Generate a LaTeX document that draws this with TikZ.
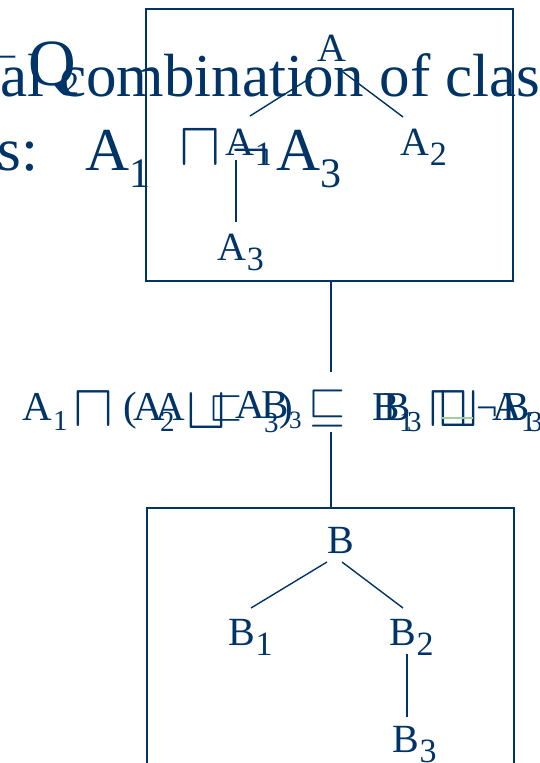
\documentclass[tikz,border=0pt]{standalone}
\usepackage{amssymb}
\usepackage{graphicx}
\usepackage{fontspec}
\setmainfont{Liberation Serif}
\usetikzlibrary{calc}

\definecolor{navy}{RGB}{0,51,102}
\definecolor{linkgreen}{RGB}{160,208,160}

% a maths symbol blown up to the size of the surrounding text
\newcommand\symb[2]{\scalebox{#1}{$#2$}}
% a lowered subscript for the tree labels
\newcommand\tsub[1]{\kern1pt\raisebox{-10pt}{\fontsize{34}{34}\selectfont #1}}

\tikzset{
  txt/.style={inner sep=0pt, outer sep=0pt, anchor=base west, text=navy},
  tree/.style={txt, font=\fontsize{40}{40}\selectfont},
  big/.style={txt, font=\fontsize{61}{61}\selectfont},
  bigsub/.style={txt, font=\fontsize{42}{42}\selectfont},
  mid/.style={txt, font=\fontsize{41}{41}\selectfont},
  midsub/.style={txt, font=\fontsize{29}{29}\selectfont},
  frame/.style={draw=navy, line width=1.5pt, inner sep=0pt, anchor=north west},
  edge/.style={draw=navy, line width=1.4pt},
}

\begin{document}
\begin{tikzpicture}[x=1pt, y=-1pt]
\useasboundingbox (0,0) rectangle (540,763);
\clip (0,0) rectangle (540,763);

% heading text running off both sides
\node[txt, font=\fontsize{40}{40}\selectfont] (dash) at (-5,66) {–};
\node[txt, font=\fontsize{66}{66}\selectfont] (q) at (28,85) {Q};
\node[txt, font=\fontsize{34}{34}\selectfont] (q2) at (62,95) {2};
\node[big] (l1) at (0,96) {al combination of clas};
\node[big] (l2) at (-2,170) {s:};
\node[big] (l3) at (85,170) {A};
\node[bigsub] (l4) at (129,187) {1};
\node[txt] (l5) at (179,165) {\symb{6.2}{\sqcap}};
\node[txt] (l6) at (231,170) {\symb{6}{\neg}};
\node[big] (l7) at (276,170) {A};
\node[bigsub] (l8) at (320,187) {3};

% upper hierarchy
\node[frame, minimum width=367pt, minimum height=272pt] (topbox) at (145,8) {};
\node[tree] (nA)  at (317,61)  {A};
\node[tree] (nA1) at (225,155) {A\tsub{1}};
\node[tree] (nA2) at (400,155) {A\tsub{2}};
\node[tree] (nA3) at (217,260) {A\tsub{3}};
\draw[edge] ($(nA.base west)+(-5,16)$) -- ($(nA1.base west)+(25,-39)$);
\draw[edge] ($(nA.base west)+(26,11)$) -- ($(nA2.base west)+(3,-38)$);
\draw[edge] ($(nA1.base west)+(11,5)$) -- ($(nA3.base west)+(19,-38)$);

% overlapping subsumption formulas
\node[mid] (m1) at (22,420) {A};
\node[midsub] (m2) at (53,430) {1};
\node[txt] (m3) at (73,426) {\symb{6}{\sqcap}};
\node[mid] (m4) at (123,420) {(};
\node[mid] (m5) at (133,420) {A};
\node[mid] (m6) at (155,420) {A};
\node[midsub] (m7) at (160,431) {2};
\node[txt] (m8) at (186,428) {\symb{6}{\sqcup}};
\node[txt] (m9) at (209,419) {\symb{4.4}{\sqsubset}};
\node[mid] (m10) at (235,418) {A};
\node[mid] (m11) at (261,418) {B};
\node[midsub] (m12) at (264,432) {3};
\node[mid] (m13) at (279,420) {)};
\node[txt, font=\fontsize{25}{25}\selectfont] (m14) at (289,428) {3};
\node[txt] (m15) at (308,420) {\symb{4.8}{\sqsubseteq}};
\node[mid] (m16) at (372,420) {B};
\node[mid] (m17) at (383,420) {B};
\node[midsub] (m18) at (399,431) {1};
\node[midsub] (m19) at (407,431) {3};
\node[txt] (m20) at (428,426) {\symb{6}{\sqcap}};
\node[txt] (m21) at (438,426) {\symb{6}{\sqcup}};
\draw[linkgreen, line width=1.6pt] ($(m21.base west)+(4,-8)$) -- ($(m21.base west)+(35,-8)$);
\node[txt, font=\fontsize{38}{38}\selectfont] (m22) at (476,420) {¬};
\node[mid] (m23) at (492,420) {A};
\node[mid] (m24) at (502,420) {B};
\node[midsub] (m25) at (521,431) {1};
\node[midsub] (m26) at (528,431) {3};

% lower hierarchy
\node[frame, minimum width=367pt, minimum height=300pt] (botbox) at (146,507) {};
\node[tree] (nB)  at (327,553) {B};
\node[tree] (nB1) at (228,645) {B\tsub{1}};
\node[tree] (nB2) at (389,645) {B\tsub{2}};
\node[tree] (nB3) at (392,752) {B\tsub{3}};
\draw[edge] ($(nB.base west)+(0,9)$) -- ($(nB1.base west)+(23,-37)$);
\draw[edge] ($(nB.base west)+(15,9)$) -- ($(nB2.base west)+(14,-37)$);
\draw[edge] ($(nB2.base west)+(18,9)$) -- ($(nB3.base west)+(15,-35)$);

% link between the two hierarchies through the formula
\node[inner sep=0pt, minimum width=1pt, minimum height=60pt] (link) at (331,402) {};
\draw[edge] (topbox.south -| link) -- (link.north);
\draw[edge] (link.south) -- (botbox.north -| link);
\end{tikzpicture}
\end{document}
